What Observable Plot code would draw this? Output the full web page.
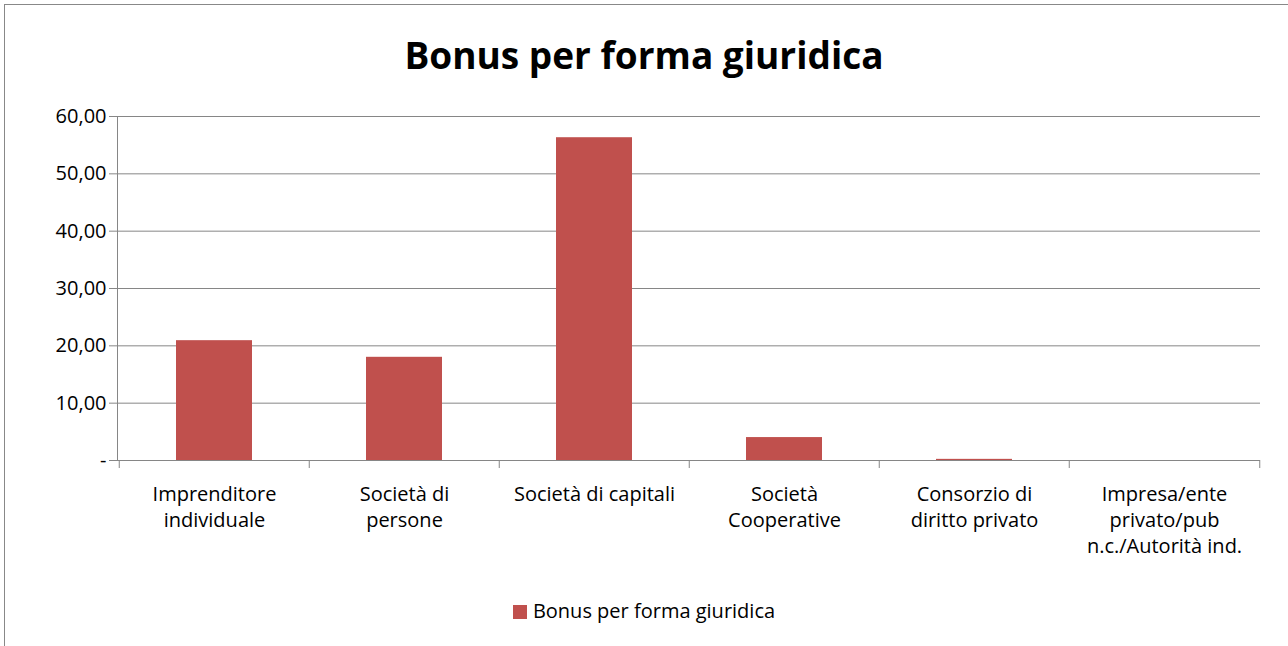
<!DOCTYPE html>
<html>
<head>
<meta charset="utf-8">
<script src="https://cdn.jsdelivr.net/npm/d3@7"></script>
<script src="https://cdn.jsdelivr.net/npm/@observablehq/plot@0.6"></script>
<style>
  body { margin: 0; background: #fff; font-family: "Open Sans", "Liberation Sans", sans-serif; }
  #frame { position: absolute; left: 4px; top: 4px; width: 1290px; height: 660px; border: 1px solid #888; box-sizing: border-box; }
  #title { position: absolute; left: 0; width: 1288px; top: 29px; text-align: center; font-size: 37px; font-weight: bold; color: #000; }
  #chart { position: absolute; left: 0; top: 100px; }
  #legend { position: absolute; left: 0; width: 1288px; top: 597px; text-align: center; font-size: 20px; color: #000; }
  #legend span.sw { display: inline-block; width: 14px; height: 14px; background: #c0504d; margin-right: 6px; vertical-align: -1px; }
</style>
</head>
<body>
<div id="frame"></div>
<div id="title">Bonus per forma giuridica</div>
<div id="chart"></div>
<div id="legend"><span class="sw"></span>Bonus per forma giuridica</div>
<script>
const categories = [
  "Imprenditore\nindividuale",
  "Società di\npersone",
  "Società di capitali",
  "Società\nCooperative",
  "Consorzio di\ndiritto privato",
  "Impresa/ente\nprivato/pub\nn.c./Autorità ind."
];
const values = [20.9, 18.0, 56.3, 4.0, 0.2, 0.0];
const yTicks = [0, 10, 20, 30, 40, 50, 60];

const data = categories.map((c, i) => ({ cat: c, v: values[i] }));
const fmt = d => d === 0 ? "-" : d3.format(".2f")(d).replace(".", ",");
const bw = (1288 - 117 - 28) / categories.length;

const chart = Plot.plot({
  width: 1288,
  height: 480,
  marginLeft: 117,
  marginRight: 28,
  marginTop: 16,
  marginBottom: 120,
  style: { fontSize: "20px", fontFamily: "Open Sans, Liberation Sans, sans-serif", color: "#000", overflow: "visible" },
  x: { domain: categories, paddingInner: 0.6, paddingOuter: 0.3, label: null },
  y: { domain: [0, 60], label: null },
  marks: [
    Plot.gridY(yTicks, { stroke: "#868686", strokeOpacity: 1 }),
    Plot.axisY(yTicks, { tickFormat: fmt, tickSize: 8, stroke: "#868686", tickPadding: 3 }),
    Plot.barY(data, { x: "cat", y: "v", fill: "#c0504d" }),
    Plot.frame({ anchor: "left", stroke: "#868686" }),
    Plot.ruleY([0], { stroke: "#868686" }),
    Plot.ruleX(categories, { x: d => d, dx: -bw / 2, y1: 0, y2: -1.4, stroke: "#868686" }),
    Plot.ruleX([categories[categories.length - 1]], { x: d => d, dx: bw / 2, y1: 0, y2: -1.4, stroke: "#868686" }),
    Plot.axisX({ tickSize: 0, tickPadding: 22, tickFormat: d => d, lineHeight: 1.3, textAnchor: "middle" })
  ]
});
document.getElementById("chart").appendChild(chart);
</script>
</body>
</html>
